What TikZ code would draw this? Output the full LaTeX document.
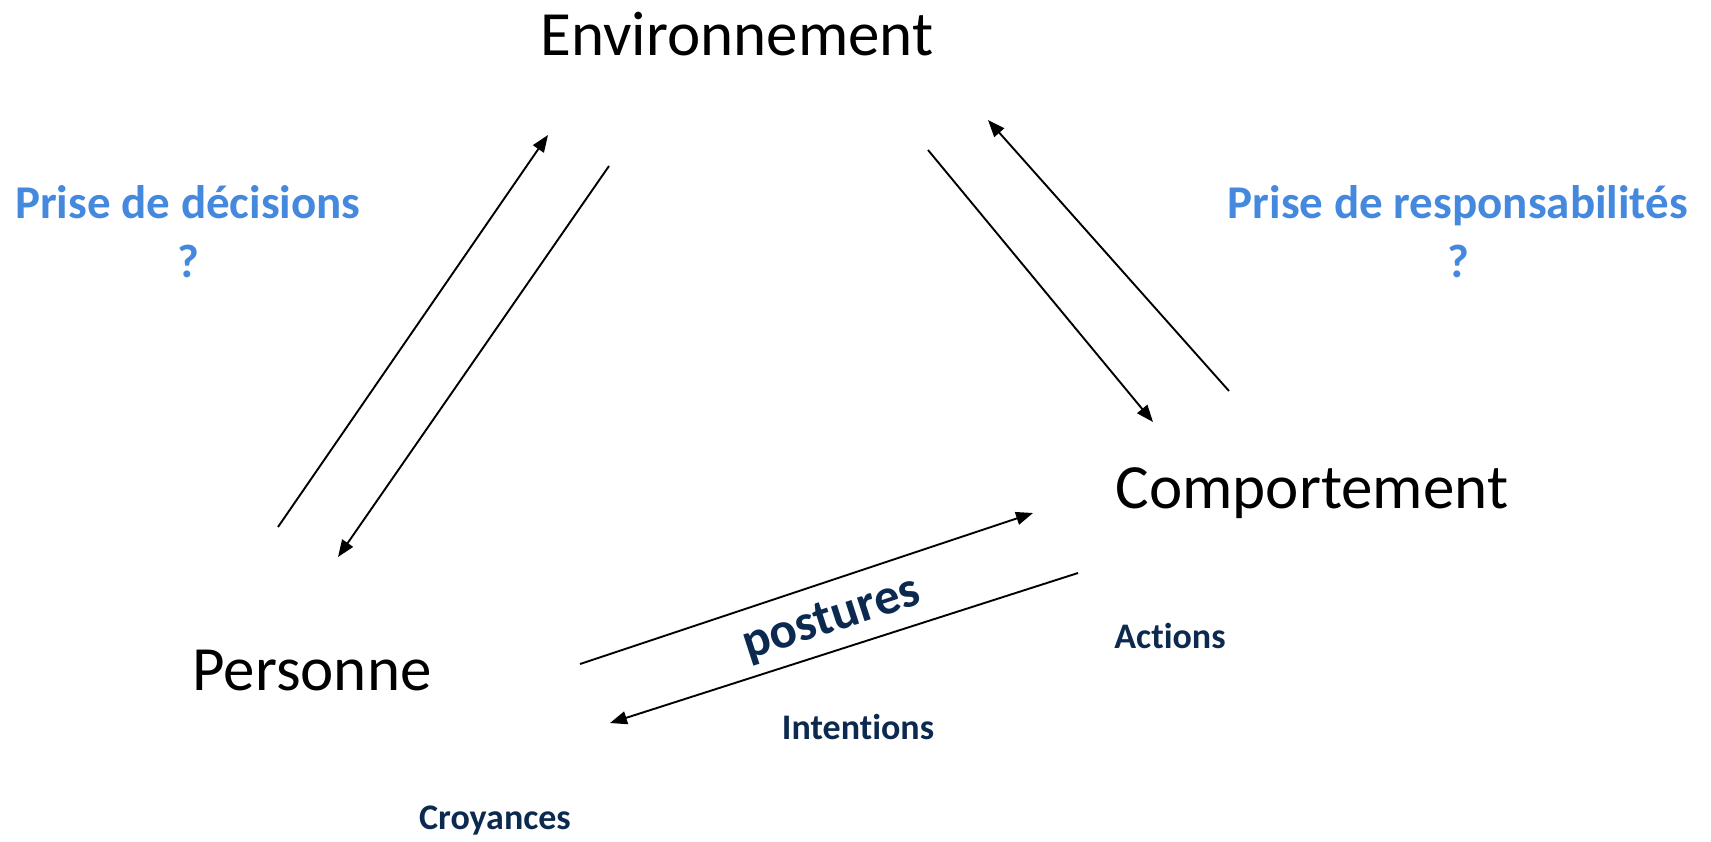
\documentclass[tikz,border=0pt]{standalone}
\usepackage{fontspec}
\setmainfont[Ligatures=NoCommon]{Carlito}
\usetikzlibrary{arrows.meta}
\definecolor{lblue}{HTML}{4489DD}
\definecolor{navy}{HTML}{0C2A4F}
\tikzset{
  main/.style={font=\fontsize{63}{76}\selectfont, anchor=base, inner sep=0pt},
  qlabel/.style={font=\bfseries\fontsize{47}{59}\selectfont, text=lblue, align=center, anchor=base, inner sep=0pt},
  small/.style={font=\bfseries\fontsize{36}{43}\selectfont, text=navy, anchor=base, inner sep=0pt},
  conn/.style={line width=1.9pt, -{Triangle[length=17pt,width=13pt]}}
}
\begin{document}
\begin{tikzpicture}[x=1pt,y=-1pt]
\useasboundingbox (0,0) rectangle (1711,841);
\node[main] (env) at (737,55) {Environnement};
\node[main] (comp) at (1312,508) {Comportement};
\node[main] (pers) at (312,690) {Personne};
\node[qlabel] (dec) at (188,277) {Prise de décisions\\?};
\node[qlabel] (resp) at (1458,277) {Prise de responsabilités\\?};
\node[small] (act) at (1170,648) {Actions};
\node[small] (int) at (858,739) {Intentions};
\node[small] (croy) at (495,829) {Croyances};
\node[font=\bfseries\fontsize{51}{60}\selectfont, text=navy, rotate=18, inner sep=0pt] (post) at (832,620) {postures};
% arrow end points
\coordinate (a1s) at (278,527);
\coordinate (a1e) at (548,135);
\coordinate (a2s) at (609,166);
\coordinate (a2e) at (338,557);
\coordinate (a3s) at (928,150);
\coordinate (a3e) at (1153,422);
\coordinate (a4s) at (1229,391);
\coordinate (a4e) at (988,120);
\coordinate (a5s) at (580,664);
\coordinate (a5e) at (1033,513);
\coordinate (a6s) at (1078,573);
\coordinate (a6e) at (610,723);
\draw[conn] (a1s) -- (a1e);
\draw[conn] (a2s) -- (a2e);
\draw[conn] (a3s) -- (a3e);
\draw[conn] (a4s) -- (a4e);
\draw[conn] (a5s) -- (a5e);
\draw[conn] (a6s) -- (a6e);
\end{tikzpicture}
\end{document}
